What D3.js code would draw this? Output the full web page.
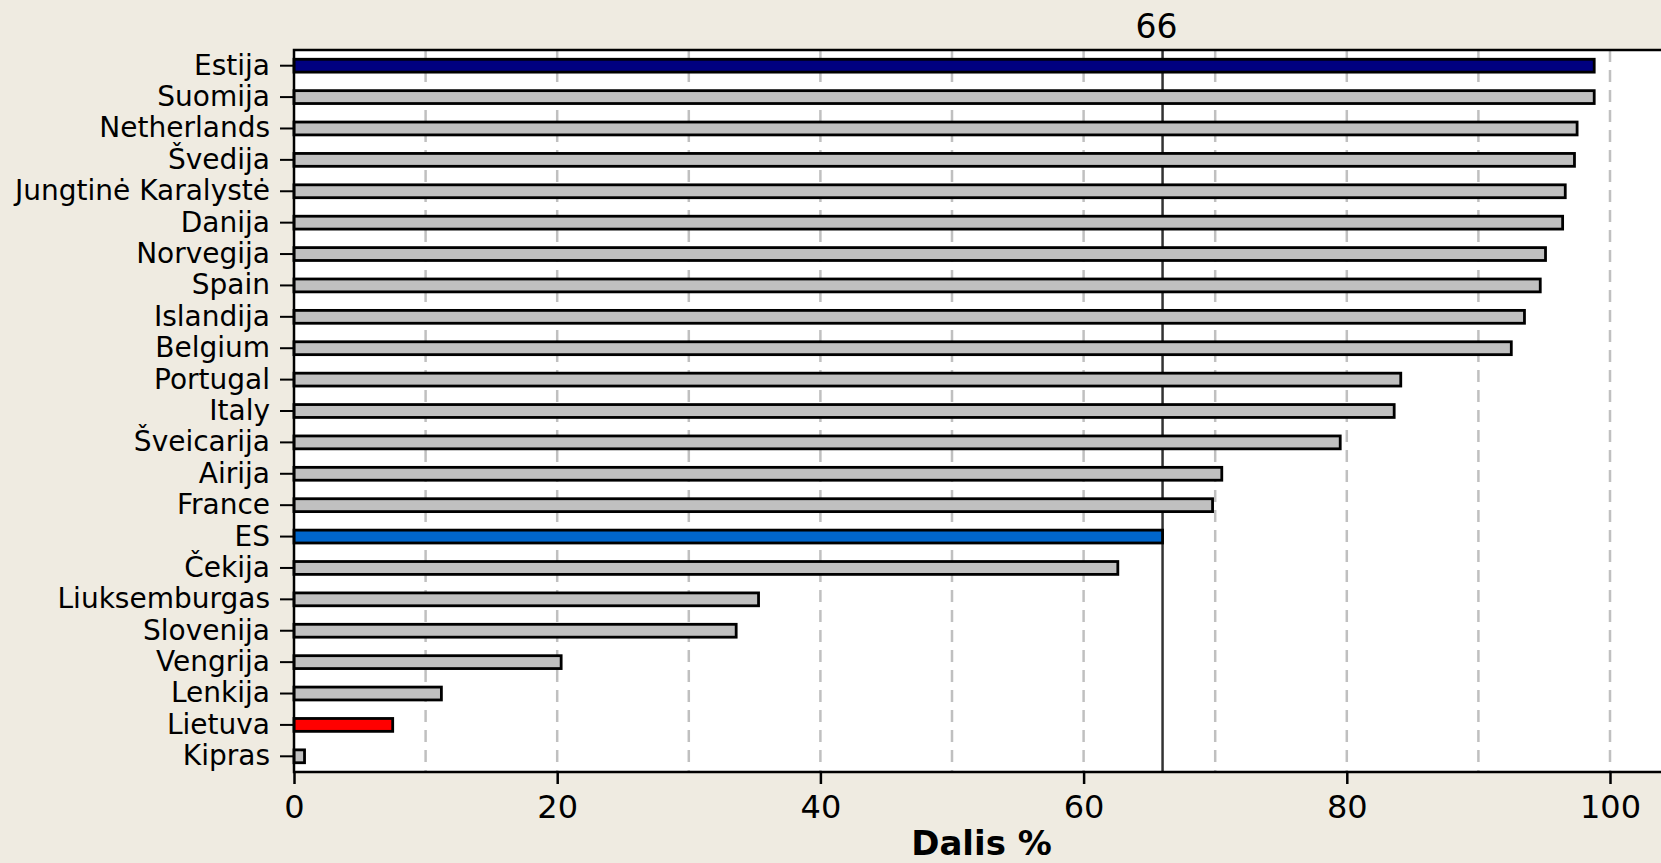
<!DOCTYPE html>
<html>
<head>
<meta charset="utf-8">
<script src="https://cdn.jsdelivr.net/npm/d3@7"></script>
<style>
    body { margin: 0; background: #efebe1; }
    svg { display: block; font-family: "DejaVu Sans", Verdana, sans-serif; }
</style>
</head>
<body>
<div id="chart"></div>
<script>
// data
const countries = ["Estija", "Suomija", "Netherlands", "Švedija", "Jungtinė Karalystė", "Danija",
    "Norvegija", "Spain", "Islandija", "Belgium", "Portugal", "Italy", "Šveicarija", "Airija",
    "France", "ES", "Čekija", "Liuksemburgas", "Slovenija", "Vengrija", "Lenkija", "Lietuva", "Kipras"];
const shares = [98.8, 98.8, 97.5, 97.3, 96.6, 96.4, 95.1, 94.7, 93.5, 92.5, 84.1, 83.6, 79.5, 70.5,
    69.8, 66.0, 62.6, 35.3, 33.6, 20.3, 11.2, 7.5, 0.8];
const xTicks = [0, 20, 40, 60, 80, 100];
const gridValues = [10, 20, 30, 40, 50, 60, 70, 80, 90, 100];
const refValue = 66;
const axisTitle = "Dalis %";

// highlighted bars
const barColors = { "Estija": "#000080", "ES": "#0066cc", "Lietuva": "#ff0000" };

const width = 1661, height = 863;
const plotLeft = 294, plotTop = 50, plotBottom = 772;

const svg = d3.select("#chart").append("svg")
    .attr("width", width)
    .attr("height", height);

const x = d3.scaleLinear([0, 100], [plotLeft, 1610]);
const y = d3.scaleBand(countries, [plotTop, plotBottom]).paddingInner(0.59).paddingOuter(0.295);

// plot background
svg.append("rect")
    .attr("x", plotLeft).attr("y", plotTop)
    .attr("width", width - plotLeft).attr("height", plotBottom - plotTop)
    .attr("fill", "#fff");

// dashed grid
svg.append("g").selectAll("line")
    .data(gridValues)
    .join("line")
    .attr("x1", d => x(d)).attr("x2", d => x(d))
    .attr("y1", plotTop).attr("y2", plotBottom)
    .attr("stroke", "#c0c0c0")
    .attr("stroke-width", 2.5)
    .attr("stroke-dasharray", "12,8");

// reference line
svg.append("line")
    .attr("x1", x(refValue)).attr("x2", x(refValue))
    .attr("y1", plotTop).attr("y2", plotBottom)
    .attr("stroke", "#333")
    .attr("stroke-width", 2.5);

svg.append("text")
    .attr("x", x(refValue) - 6)
    .attr("y", 38)
    .attr("text-anchor", "middle")
    .style("font-size", "33px")
    .text(refValue);

// bars
svg.append("g").selectAll("rect")
    .data(countries.map((c, i) => [c, shares[i]]))
    .join("rect")
    .attr("x", x(0))
    .attr("y", d => y(d[0]))
    .attr("width", d => x(d[1]) - x(0))
    .attr("height", y.bandwidth())
    .attr("fill", d => barColors[d[0]] || "#c0c0c0")
    .attr("stroke", "#000")
    .attr("stroke-width", 2.8);

// axes
const axisY = svg.append("g")
    .attr("transform", `translate(${plotLeft},0)`)
    .call(d3.axisLeft(y).tickSize(14).tickPadding(10).tickSizeOuter(0));
axisY.select(".domain").remove();
axisY.selectAll("line").attr("stroke", "#000").attr("stroke-width", 2);
axisY.selectAll("text")
    .style("font-size", "28px")
    .style("font-family", "DejaVu Sans, Verdana, sans-serif")
    .attr("fill", "#000");

const axisX = svg.append("g")
    .attr("transform", `translate(0,${plotBottom})`)
    .call(d3.axisBottom(x).tickValues(xTicks).tickSize(12).tickPadding(11).tickSizeOuter(0));
axisX.select(".domain").remove();
axisX.selectAll("line").attr("stroke", "#000").attr("stroke-width", 2.5);
axisX.selectAll("text")
    .style("font-size", "32px")
    .style("font-family", "DejaVu Sans, Verdana, sans-serif")
    .attr("fill", "#000");

// frame
svg.append("path")
    .attr("d", `M${width},${plotTop}H${plotLeft}V${plotBottom}H${width}`)
    .attr("fill", "none")
    .attr("stroke", "#000")
    .attr("stroke-width", 2.5);

svg.append("text")
    .attr("x", (plotLeft + width) / 2 + 4)
    .attr("y", 855)
    .attr("text-anchor", "middle")
    .style("font-size", "34px")
    .style("font-weight", "bold")
    .text(axisTitle);
</script>
</body>
</html>
